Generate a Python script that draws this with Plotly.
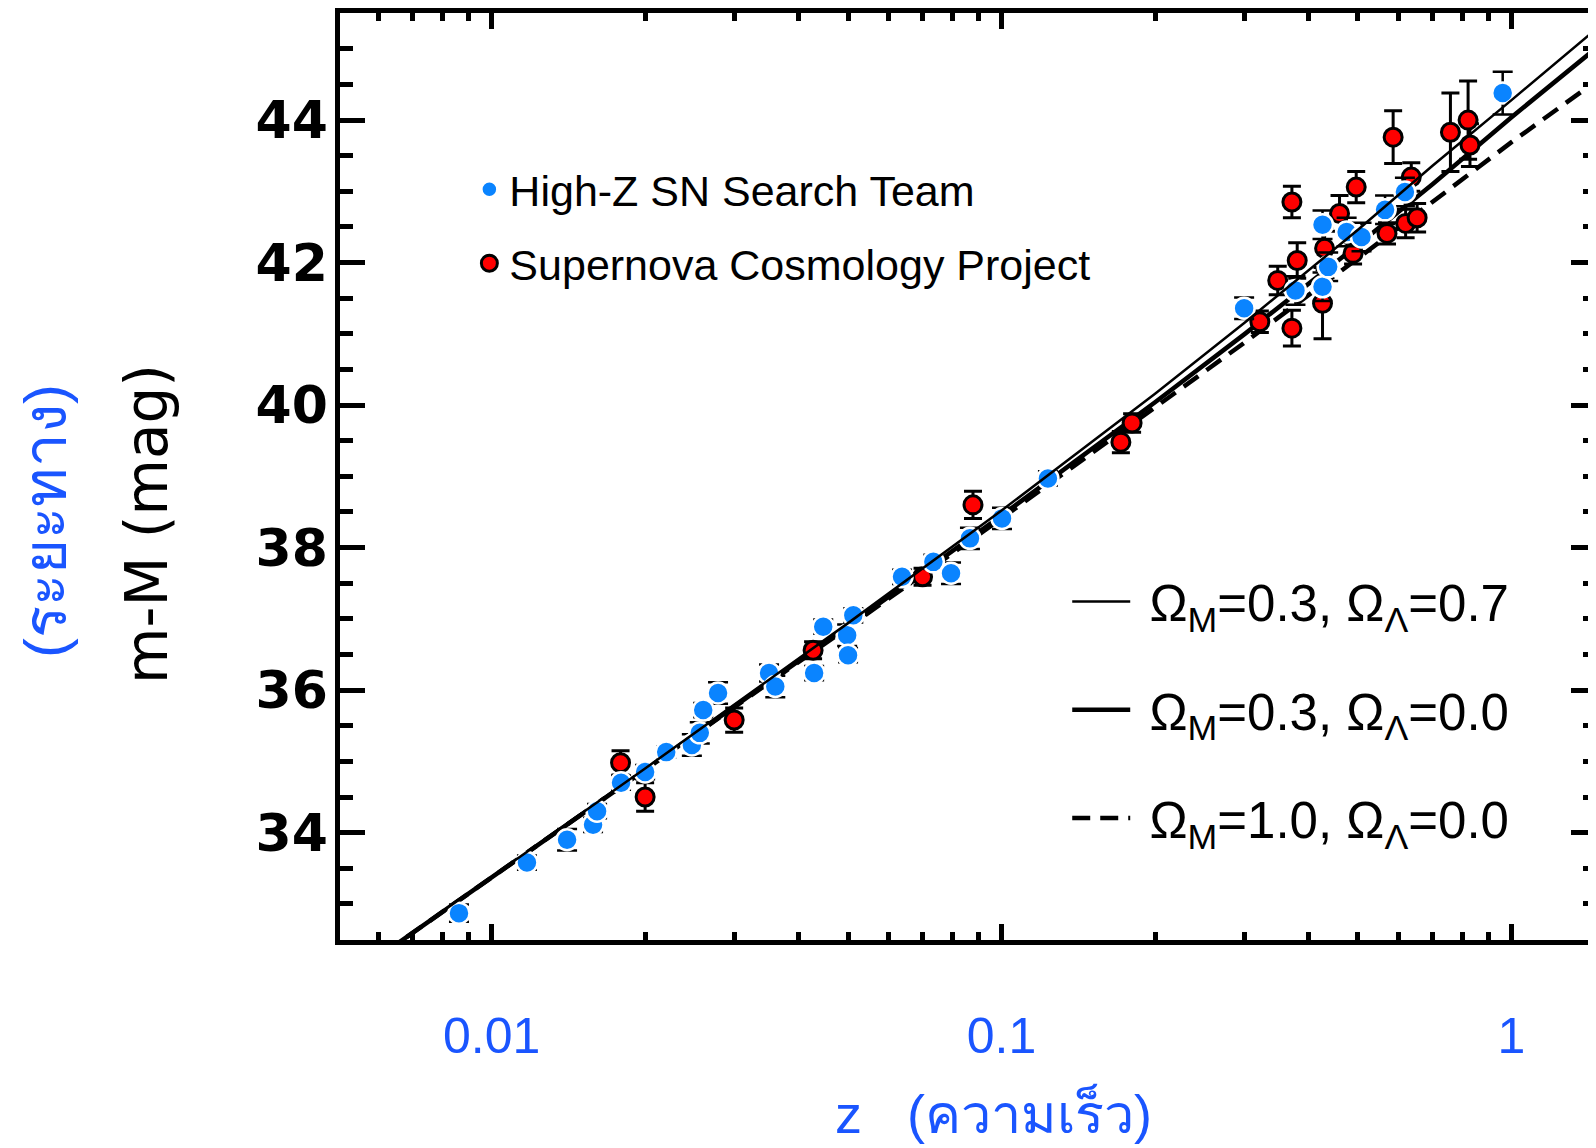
import plotly.graph_objects as go

# ---------------- data ----------------
# model curves: redshift z and distance modulus m-M
model_z = [0.005, 0.01, 0.02, 0.05, 0.1, 0.2, 0.3, 0.5, 0.7, 1.0, 1.5]
mu_lambda = [31.86, 33.38, 34.90, 36.94, 38.52, 40.16, 41.16, 42.46, 43.36, 44.28, 45.34]   # OmM=0.3, OmL=0.7
mu_open = [31.86, 33.37, 34.88, 36.90, 38.45, 40.04, 41.00, 42.25, 43.10, 44.04, 45.07]     # OmM=0.3, OmL=0.0
mu_eds = [31.86, 33.37, 34.88, 36.88, 38.41, 39.96, 40.88, 42.06, 42.86, 43.69, 44.60]      # OmM=1.0, OmL=0.0

# Supernova Cosmology Project (red)
scp_z = [0.0179, 0.0200, 0.0299, 0.0427, 0.0700, 0.0879, 0.1714, 0.1803,
         0.321, 0.348, 0.371, 0.371, 0.380, 0.426, 0.430, 0.460, 0.489, 0.496,
         0.570, 0.586, 0.620, 0.636, 0.653, 0.759, 0.822, 0.829]
scp_mu = [34.98, 34.50, 35.58, 36.56, 37.59, 38.60, 39.48, 39.75,
          41.17, 41.75, 41.08, 42.85, 42.03, 41.43, 42.20, 42.69, 42.13, 43.06,
          42.41, 43.76, 42.55, 43.20, 42.63, 43.83, 44.00, 43.65]
scp_err = [0.17, 0.20, 0.17, 0.12, 0.12, 0.19, 0.15, 0.13,
           0.15, 0.20, 0.25, 0.22, 0.25, 0.50, 0.30, 0.25, 0.15, 0.22,
           0.15, 0.37, 0.20, 0.20, 0.20, 0.55, 0.55, 0.30]

# High-Z SN Search Team (blue)
hz_z = [0.00863, 0.01173, 0.01406, 0.01581, 0.0161, 0.01794, 0.0200, 0.0220,
        0.0247, 0.0256, 0.0260, 0.0278, 0.0350, 0.0360, 0.0429, 0.0447, 0.0498,
        0.0500, 0.0512, 0.0638, 0.0735, 0.0796, 0.0867, 0.1002, 0.1233,
        0.299, 0.377, 0.426, 0.437, 0.426, 0.475, 0.508, 0.565, 0.618, 0.961]
hz_mu = [32.87, 33.58, 33.90, 34.11, 34.30, 34.70, 34.85, 35.13,
         35.23, 35.40, 35.72, 35.96, 36.24, 36.05, 36.24, 36.89, 36.77,
         36.49, 37.05, 37.59, 37.80, 37.64, 38.13, 38.41, 38.97,
         41.36, 41.61, 41.66, 41.94, 42.53, 42.43, 42.36, 42.74, 42.99, 44.38]
hz_err = [0.12, 0.10, 0.15, 0.10, 0.10, 0.10, 0.10, 0.08,
          0.15, 0.15, 0.10, 0.15, 0.12, 0.15, 0.10, 0.10, 0.15,
          0.10, 0.10, 0.10, 0.10, 0.15, 0.15, 0.15, 0.10,
          0.15, 0.20, 0.20, 0.20, 0.20, 0.20, 0.20, 0.20, 0.20, 0.30]

x_tickvals = [0.01, 0.1, 1]
x_ticktext = ["0.01", "0.1", "1"]
x_minorvals = [0.006, 0.007, 0.008, 0.009,
               0.02, 0.03, 0.04, 0.05, 0.06, 0.07, 0.08, 0.09,
               0.2, 0.3, 0.4, 0.5, 0.6, 0.7, 0.8, 0.9]

names_models = ["\u00a0Ω<sub>M</sub>=0.3, Ω<sub>Λ</sub>=0.7",
                "\u00a0Ω<sub>M</sub>=0.3, Ω<sub>Λ</sub>=0.0",
                "\u00a0Ω<sub>M</sub>=1.0, Ω<sub>Λ</sub>=0.0"]

BLUE_TXT = "#1a55ff"
BLUE_PT = "#0a84ff"

fig = go.Figure()

# the thin model line lives on the right-hand (mirror) y axis, which has the same range
fig.add_trace(go.Scatter(x=model_z, y=mu_lambda, mode="lines", name=names_models[0],
                         line=dict(color="black", width=2.5), legend="legend2",
                         legendgroup="a", legendrank=1, yaxis="y2"))
fig.add_trace(go.Scatter(x=model_z, y=mu_open, mode="lines", name=names_models[1],
                         line=dict(color="black", width=4.5), legend="legend2",
                         legendgroup="b", legendrank=2))
fig.add_trace(go.Scatter(x=model_z, y=mu_eds, mode="lines", name=names_models[2],
                         line=dict(color="black", width=4.5, dash="18px,10px"), legend="legend2",
                         legendgroup="c", legendrank=3))

fig.add_trace(go.Scatter(x=scp_z, y=scp_mu, mode="markers", name="Supernova Cosmology Project",
                         marker=dict(color="#ff0000", size=18, line=dict(color="black", width=3)),
                         error_y=dict(type="data", array=scp_err, color="black", thickness=3, width=9),
                         legend="legend", legendgroup="d", legendrank=2))
fig.add_trace(go.Scatter(x=hz_z, y=hz_mu, mode="markers", name="High-Z SN Search Team",
                         marker=dict(color=BLUE_PT, size=21, line=dict(color="white", width=2.5)),
                         error_y=dict(type="data", array=hz_err, color="black", thickness=2.5, width=10),
                         legend="legend", legendgroup="e", legendrank=1))

xr = [-2.2973, 0.1657]
yr = [32.493, 45.503]

# the page body adds an 8 px margin: the figure starts at (8, 8)
fig.update_layout(
    width=1588, height=1140,
    margin=dict(l=332, r=0, t=5, b=208),
    paper_bgcolor="white", plot_bgcolor="white",
    xaxis=dict(type="log", range=xr, showgrid=False, zeroline=False,
               showline=True, linecolor="black", linewidth=4.5, mirror="ticks",
               tickmode="array", tickvals=x_tickvals, ticktext=x_ticktext,
               ticks="inside", ticklen=16, tickwidth=5, tickcolor="black",
               ticklabelstandoff=48,
               tickfont=dict(family="Liberation Sans, Arial, sans-serif", size=50, color=BLUE_TXT),
               minor=dict(tickmode="array", tickvals=x_minorvals, ticks="inside",
                          ticklen=8, tickwidth=5, tickcolor="black", showgrid=False)),
    yaxis=dict(range=yr, showgrid=False, zeroline=False,
               showline=True, linecolor="black", linewidth=4.5, mirror=False,
               tick0=0, dtick=2, ticks="inside", ticklen=25, tickwidth=5, tickcolor="black",
               ticklabelstandoff=-3,
               tickfont=dict(family="DejaVu Sans, sans-serif", size=52, color="black", weight="bold"),
               minor=dict(dtick=0.5, ticks="inside", ticklen=13, tickwidth=5,
                          tickcolor="black", showgrid=False)),
    yaxis2=dict(range=yr, overlaying="y", side="right", anchor="x", showgrid=False, zeroline=False,
                showline=False, showticklabels=False,
                tick0=0, dtick=2, ticks="inside", ticklen=25, tickwidth=5, tickcolor="black",
                minor=dict(dtick=0.5, ticks="inside", ticklen=13, tickwidth=5,
                           tickcolor="black", showgrid=False)),
    legend=dict(x=0.103, y=0.847, xanchor="left", yanchor="top",
                bgcolor="rgba(0,0,0,0)", borderwidth=0, traceorder="grouped",
                tracegroupgap=15,
                font=dict(family="Liberation Sans, Arial, sans-serif", size=43, color="black")),
    legend2=dict(x=0.579, y=0.408, xanchor="left", yanchor="top",
                 bgcolor="rgba(0,0,0,0)", borderwidth=0, traceorder="grouped",
                 tracegroupgap=39, itemwidth=58,
                 font=dict(family="Liberation Sans, Arial, sans-serif", size=51, color="black")),
    showlegend=True,
)

# axis titles
fig.add_annotation(text="z   (ความเร็ว)", xref="paper", yref="paper", x=0.5206, y=-0.1877,
                   xanchor="center", yanchor="middle", showarrow=False,
                   font=dict(family="Liberation Sans, Noto Sans, sans-serif", size=54, color=BLUE_TXT))
fig.add_annotation(text="m-M (mag)", xref="paper", yref="paper", x=-0.1536, y=0.4488,
                   xanchor="center", yanchor="middle", showarrow=False, textangle=-90,
                   font=dict(family="DejaVu Sans, sans-serif", size=58, color="black"))
fig.add_annotation(text="(ระยะทาง)", xref="paper", yref="paper", x=-0.2341, y=0.452,
                   xanchor="center", yanchor="middle", showarrow=False, textangle=-90,
                   font=dict(family="Liberation Sans, Noto Sans, sans-serif", size=60, color=BLUE_TXT))

fig.write_html("out.html")
